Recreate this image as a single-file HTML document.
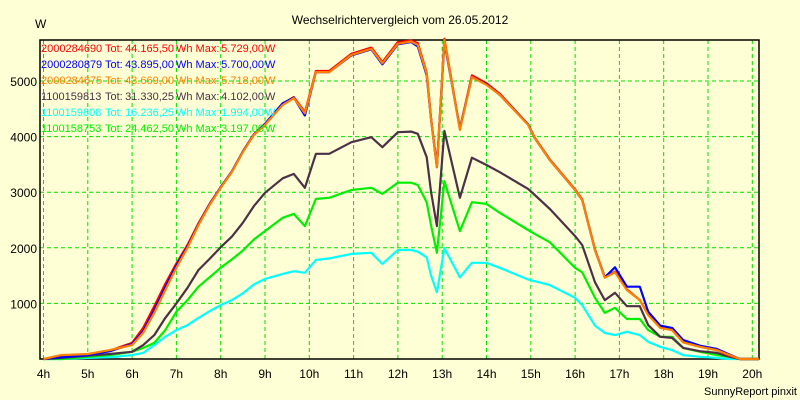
<!DOCTYPE html>
<html><head><meta charset="utf-8"><style>
body{margin:0;background:#FFFFD5;}
svg{display:block;font-family:"Liberation Sans",sans-serif;}
</style></head><body>
<svg id="chart" width="800" height="400" viewBox="0 0 800 400">
<rect x="0" y="0" width="800" height="400" fill="#FFFFD5"/>
<text x="400" y="24" text-anchor="middle" font-size="12">Wechselrichtervergleich vom 26.05.2012</text>
<text x="35" y="28" font-size="12">W</text>
<text x="797" y="395" text-anchor="end" font-size="11">SunnyReport pinxit</text>
<g id="grid"></g>
<g id="axes"></g>
<g id="series"></g>
<g id="legend"></g>
</svg>
<script>
const hours = [4,4.4,5,5.5,6,6.25,6.5,6.75,7,7.25,7.5,7.75,8,8.25,8.5,8.75,9,9.4,9.65,9.9,10.15,10.45,10.95,11.4,11.65,12,12.3,12.45,12.65,12.75,12.88,13.05,13.4,13.67,14.0,14.3,14.94,15.09,15.43,16.0,16.16,16.45,16.67,16.9,17.17,17.46,17.65,17.92,18.19,18.44,18.82,19.2,19.49,19.72,20.15];
const seriesCyan = [0,0,20,30,70,110,250,400,520,610,740,860,970,1060,1180,1340,1440,1530,1580,1550,1780,1810,1890,1910,1710,1960,1960,1930,1830,1500,1200,1994,1470,1730,1730,1640,1430,1400,1330,1100,970,600,470,430,490,430,310,220,160,70,40,20,0,0,0];
const seriesGreen = [0,0,40,70,130,200,290,520,850,1060,1300,1470,1640,1790,1950,2150,2300,2540,2610,2390,2880,2900,3040,3080,2970,3170,3170,3130,2820,2400,1910,3197,2300,2820,2790,2630,2320,2250,2100,1640,1560,1100,830,920,720,720,520,400,400,200,130,70,40,0,0];
const seriesDark = [0,20,60,90,130,250,430,740,1000,1280,1600,1800,2010,2200,2450,2750,2990,3250,3330,3080,3690,3690,3900,3990,3810,4080,4090,4050,3630,3000,2390,4102,2900,3620,3490,3360,3060,2950,2700,2210,2050,1380,1060,1190,950,950,610,400,380,200,140,110,40,0,0];
const seriesRed = [0,40,80,150,290,560,950,1350,1720,2050,2440,2790,3090,3370,3730,4040,4220,4590,4710,4440,5180,5180,5490,5600,5340,5700,5729,5680,5150,4320,3470,5760,4140,5100,4960,4770,4220,3980,3590,3050,2870,1970,1470,1570,1250,1060,800,570,520,300,220,160,60,0,0];
const seriesBlue = [0,30,70,140,270,500,880,1290,1680,2020,2420,2780,3090,3370,3730,4040,4230,4600,4700,4380,5160,5160,5460,5570,5300,5660,5700,5620,5100,4300,3450,5700,4140,5070,4940,4750,4220,3970,3580,3040,2860,1960,1470,1650,1300,1300,850,600,560,340,240,180,80,0,0];
const seriesOrange = [0,70,90,160,250,470,830,1240,1640,2000,2410,2770,3080,3360,3720,4030,4210,4570,4690,4420,5160,5160,5470,5580,5320,5670,5710,5650,5130,4300,3450,5740,4120,5070,4930,4750,4210,3970,3580,3040,2860,1960,1460,1560,1240,1060,790,560,520,300,220,160,70,0,0];
const xTicks = [4,5,6,7,8,9,10,11,12,13,14,15,16,17,18,19,20];
const yTicks = [1000,2000,3000,4000,5000];
const legendIds = ["2000284690","2000280879","2000284675","1100159813","1100159808","1100158753"];
const legendTot = ["44.165,50","43.895,00","43.669,00","31.330,25","16.236,25","24.462,50"];
const legendMax = ["5.729,00","5.700,00","5.718,00","4.102,00","1.994,00","3.197,00"];

const NS="http://www.w3.org/2000/svg";
const X0=40,X1=759,Y0=359,Y1=40;
function xs(h){return 43.5+(h-4)*44.3;}
function ys(v){return 359-v*0.0556;}
function mk(tag,attrs,parent){const e=document.createElementNS(NS,tag);for(const k in attrs)e.setAttribute(k,attrs[k]);parent.appendChild(e);return e;}
const grid=document.getElementById('grid'),axes=document.getElementById('axes'),ser=document.getElementById('series'),leg=document.getElementById('legend');
xTicks.forEach(h=>{
  const l=mk('line',{x1:xs(h),x2:xs(h),y1:Y1,y2:Y0+3,stroke:'#00E000','stroke-dasharray':'4,3','stroke-width':1},grid);
  
  
  const t=mk('text',{x:xs(h),y:378,'text-anchor':'middle','font-size':12},axes);
  t.textContent=h+'h';
  
  
});
yTicks.forEach(v=>{
  const l=mk('line',{x1:X0,x2:X1,y1:ys(v),y2:ys(v),stroke:'#00E000','stroke-dasharray':'4,3','stroke-width':1},grid);
  
  
  const t=mk('text',{x:37,y:ys(v)+5,'text-anchor':'end','font-size':12},axes);
  t.textContent=v;
  
  
});
const frame=mk('path',{d:`M${X0},${Y1}H${X1}V${Y0}H${X0}Z`,fill:'none',stroke:'#000','stroke-width':1.5},axes);


const defs=[[seriesCyan,'#00FFFF','series-1100159808'],[seriesGreen,'#00EE00','series-1100158753'],[seriesDark,'#4A3048','series-1100159813'],[seriesRed,'#FF0000','series-2000284690'],[seriesBlue,'#0000FF','series-2000280879'],[seriesOrange,'#FF8000','series-2000284675']];
defs.forEach(d=>{
  const pts=hours.map((h,i)=>xs(h).toFixed(1)+','+ys(d[0][i]).toFixed(1)).join(' ');
  const p=mk('polyline',{points:pts,fill:'none',stroke:d[1],'stroke-width':2.2,'stroke-linejoin':'round'},ser);
  
  
});
const legColors=['#FF0000','#0000FF','#FF8000','#4A3048','#00FFFF','#00EE00'];
legendIds.forEach((id,i)=>{
  const y=52+i*16,c=legColors[i];
  const g=mk('g',{fill:c,'font-size':11},leg);
  
  
  const parts=[[41,id,'start'],[105,'Tot:','start'],[174,legendTot[i],'end'],[176,'Wh Max:','start'],[264,legendMax[i],'end'],[265,'W','start']];
  parts.forEach(p=>{const t=mk('text',{x:p[0],y:y,'text-anchor':p[2]},g);t.textContent=p[1];});
});
</script>
</body></html>
